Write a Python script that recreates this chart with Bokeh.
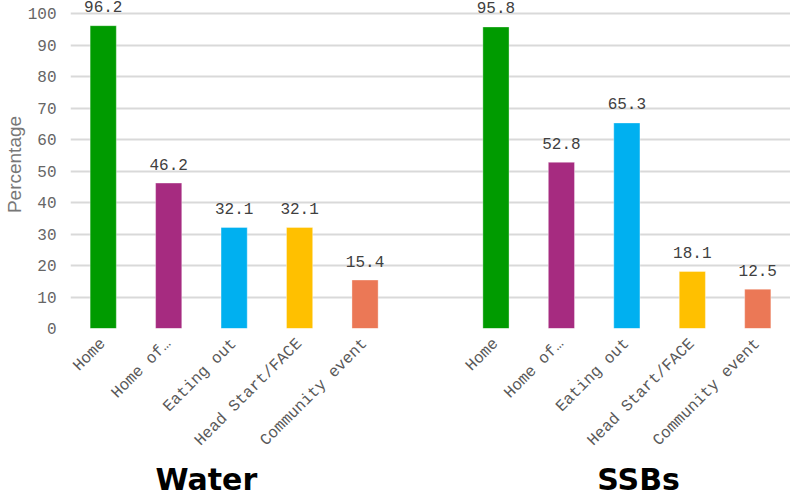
import math
from bokeh.plotting import figure
from bokeh.models import ColumnDataSource, FixedTicker, LinearAxis
from bokeh.core.properties import value
from bokeh.embed import file_html
from bokeh.resources import INLINE

categories = ["Home", "Home of…", "Eating out", "Head Start/FACE", "Community event"]
water_vals = [96.2, 46.2, 32.1, 32.1, 15.4]
ssb_vals = [95.8, 52.8, 65.3, 18.1, 12.5]
colors = ["#009B00", "#A62B80", "#00B0F0", "#FFC000", "#EB7856"]
group_titles = ["Water", "SSBs"]
title_x = [2.075, 8.68]
y_ticks = list(range(0, 101, 10))

n = len(categories)
xs = [i + 0.5 for i in range(n)] + [n + 1 + i + 0.5 for i in range(n)]
vals = water_vals + ssb_vals
cols = colors + colors
labels = [f"{v:.1f}" for v in vals]
src = ColumnDataSource(dict(x=xs, top=vals, color=cols, label=labels))

p = figure(width=790, height=499, output_backend="svg", toolbar_location=None,
           x_range=(0, 2 * n + 1), y_range=(0, 104.2),
           min_border_left=69, min_border_right=0, min_border_top=0,
           min_border_bottom=0)
p.outline_line_color = None

p.vbar(x="x", top="top", width=0.4, bottom=0, fill_color="color",
       line_color="white", line_alpha=0.35, line_width=1, source=src)
p.text(x="x", y="top", text="label", source=src, y_offset=-19,
       text_align="center", text_baseline="alphabetic",
       text_font=value("Liberation Mono"), text_font_size="16px",
       text_color="#404040")

# axes
p.yaxis.ticker = FixedTicker(ticks=y_ticks)
p.yaxis.axis_line_color = None
p.yaxis.major_tick_line_color = None
p.yaxis.minor_tick_line_color = None
p.yaxis.major_label_standoff = 8
p.yaxis.major_label_text_font = "Liberation Mono"
p.yaxis.major_label_text_font_size = "16px"
p.yaxis.major_label_text_color = "#666666"
p.yaxis.axis_label = "Percentage"
p.yaxis.axis_label_text_font = "Liberation Sans"
p.yaxis.axis_label_text_font_style = "normal"
p.yaxis.axis_label_text_font_size = "19px"
p.yaxis.axis_label_text_color = "#777777"
p.yaxis.axis_label_standoff = 0

p.xaxis.ticker = FixedTicker(ticks=xs)
p.xaxis.major_label_overrides = {x: c for x, c in zip(xs, categories + categories)}
p.xaxis.major_label_orientation = math.pi / 4
p.xaxis.axis_line_color = None
p.xaxis.major_tick_line_color = None
p.xaxis.minor_tick_line_color = None
p.xaxis.major_label_standoff = 7
p.xaxis.major_label_text_font = "Liberation Mono"
p.xaxis.major_label_text_font_size = "16px"
p.xaxis.major_label_text_color = "#595959"

# group titles as a second axis below the category labels
tax = LinearAxis(ticker=FixedTicker(ticks=title_x),
                 major_label_overrides={x: t for x, t in zip(title_x, group_titles)})
tax.axis_line_color = None
tax.major_tick_line_color = None
tax.minor_tick_line_color = None
tax.major_label_standoff = -4
tax.major_label_text_font = "DejaVu Sans"
tax.major_label_text_font_style = "bold"
tax.major_label_text_font_size = "30px"
tax.major_label_text_color = "#000000"
p.add_layout(tax, "below")

p.xgrid.grid_line_color = None
p.ygrid.grid_line_color = "#D9D9D9"
p.ygrid.grid_line_width = 2
p.ygrid.ticker = FixedTicker(ticks=y_ticks)

open("out.html", "w").write(file_html(p, INLINE))
